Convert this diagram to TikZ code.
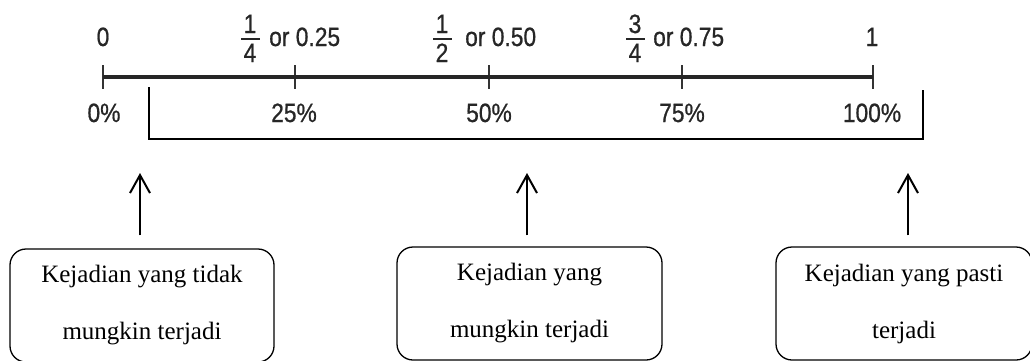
\documentclass[tikz,border=0pt]{standalone}
\usepackage{fontspec}
\setmainfont{Liberation Serif}
\newfontfamily\labelsans{Liberation Sans}[FakeStretch=0.86,FakeBold=0.7]
\usetikzlibrary{arrows.meta}
\definecolor{labelgray}{RGB}{38,38,38}
\begin{document}
\begin{tikzpicture}[x=1pt,y=-1pt,
  lbl/.style={font=\labelsans\fontsize{26.5}{30}\selectfont, text=labelgray, inner sep=0pt},
  axisline/.style={line width=3.5pt, draw=black!85},
  tickline/.style={line width=2pt, draw=black!80},
  bracketline/.style={line width=2pt, draw=black},
  fracbar/.style={line width=1.6pt, draw=labelgray},
  uparrow/.style={line width=2pt, -{Straight Barb[length=18pt,width=20pt,line width=2pt]}},
  eventbox/.style={draw, line width=1.3pt, rounded corners=16pt, minimum height=113pt,
    align=center, font=\fontsize{25}{57}\selectfont, inner sep=0pt},
]
\useasboundingbox (0,0) rectangle (1030,360);
\clip (0,0) rectangle (1030,360);

% number line and ticks
\foreach \n/\x in {0/103,1/295,2/489,3/682,4/873}{
  \coordinate (p\n) at (\x,77);
  \draw[tickline] (\x,65) -- (\x,89);
}
\draw[axisline] (p0) -- (p4);

% values above the line
\node[lbl, anchor=base] (v0) at (103,46) {0};
\node[lbl, anchor=base] (n1) at (250,33) {1};
\node[lbl, anchor=base] (d1) at (250,62) {4};
\draw[fracbar] (241,39) -- (260,39);
\node[lbl, anchor=base west] (v1) at (269,46) {or 0.25};
\node[lbl, anchor=base] (n2) at (442,33) {1};
\node[lbl, anchor=base] (d2) at (442,62) {2};
\draw[fracbar] (433,39) -- (452,39);
\node[lbl, anchor=base west] (v2) at (465,46) {or 0.50};
\node[lbl, anchor=base] (n3) at (635,33) {3};
\node[lbl, anchor=base] (d3) at (635,62) {4};
\draw[fracbar] (626,39) -- (645,39);
\node[lbl, anchor=base west] (v3) at (653,46) {or 0.75};
\node[lbl, anchor=base] (v4) at (872,46) {1};

% percentages below the line
\node[lbl, anchor=base] (q0) at (104,122) {0\%};
\node[lbl, anchor=base] (q1) at (294,122) {25\%};
\node[lbl, anchor=base] (q2) at (489,122) {50\%};
\node[lbl, anchor=base] (q3) at (682,122) {75\%};
\node[lbl, anchor=base] (q4) at (872,122) {100\%};

% bracket under the scale
\coordinate (bl) at (149,87);
\coordinate (br) at (923,90);
\draw[bracketline] (bl) -- (bl |- 0,139) -- (br |- 0,139) -- (br);

% event boxes
\node[eventbox, minimum width=264pt] (b1) at (142,305.5) {Kejadian yang tidak\\mungkin terjadi};
\node[eventbox, minimum width=265pt] (b2) at (529.5,303.5) {Kejadian yang\\mungkin terjadi};
\node[eventbox, minimum width=256pt] (b3) at (904,303.5) {Kejadian yang pasti\\terjadi};

% arrows pointing up at the scale
\coordinate (t1) at (140,173);
\coordinate (t2) at (527,173);
\coordinate (t3) at (908,173);
\draw[uparrow] (b1.north -| t1) ++(0,-13) -- (t1);
\draw[uparrow] (b2.north -| t2) ++(0,-11) -- (t2);
\draw[uparrow] (b3.north -| t3) ++(0,-11) -- (t3);
\end{tikzpicture}
\end{document}
